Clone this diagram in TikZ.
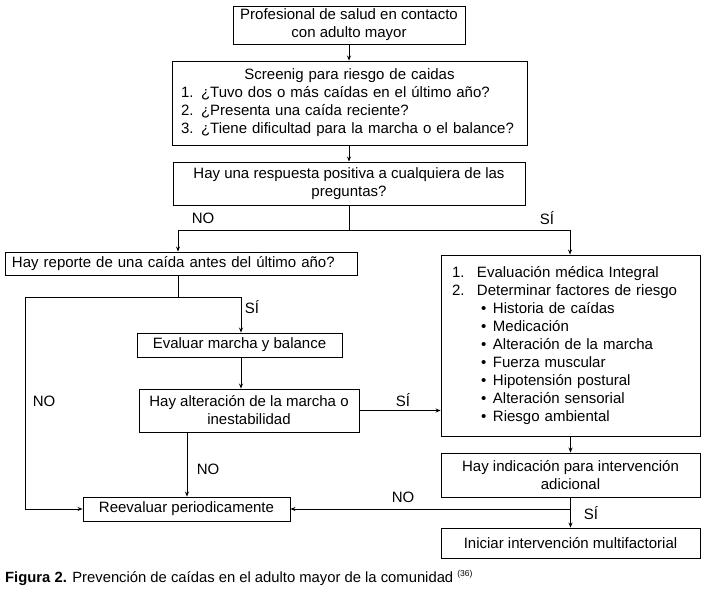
\documentclass[tikz,border=0pt]{standalone}
\usepackage{fontspec}
\setmainfont{Liberation Sans}
\usetikzlibrary{arrows.meta}
\begin{document}
\begin{tikzpicture}[x=1pt,y=-1pt,
  box/.style={draw,line width=0.9pt,inner sep=0pt,align=center,font=\fontsize{15}{18}\selectfont},
  arr/.style={line width=0.8pt,-{Stealth[length=5pt,width=4pt]}},
  ln/.style={line width=0.8pt},
  lab/.style={font=\fontsize{15}{18}\selectfont,inner sep=0pt}]
\useasboundingbox[fill=white] (0,0) rectangle (703,592);
\node[box,minimum width=232pt,minimum height=38pt] (b1) at (349,25) {Profesional de salud en contacto\\con adulto mayor};
\node[box,minimum width=355pt,minimum height=84pt,text width=337pt,align=left] (b2) at (349.5,103)
  {\makebox[\linewidth]{Screenig para riesgo de caidas}\\
   1. ¿Tuvo dos o más caídas en el último año?\\
   2. ¿Presenta una caída reciente?\\
   3. ¿Tiene dificultad para la marcha o el balance?};
\node[box,minimum width=352pt,minimum height=43pt] (b3) at (349,183.5) {Hay una respuesta positiva a cualquiera de las\\preguntas?};
\node[box,minimum width=352pt,minimum height=23pt,text width=338pt,align=left] (b4) at (181,263.5) {Hay reporte de una caída antes del último año?};
\node[box,minimum width=259pt,minimum height=181pt,text width=237pt,align=left] (b5) at (570.5,345.5)
  {\makebox[25pt][l]{1.}Evaluación médica Integral\\
   \makebox[25pt][l]{2.}Determinar factores de riesgo\\
   \hspace*{29pt}\makebox[12pt][l]{•}Historia de caídas\\
   \hspace*{29pt}\makebox[12pt][l]{•}Medicación\\
   \hspace*{29pt}\makebox[12pt][l]{•}Alteración de la marcha\\
   \hspace*{29pt}\makebox[12pt][l]{•}Fuerza muscular\\
   \hspace*{29pt}\makebox[12pt][l]{•}Hipotensión postural\\
   \hspace*{29pt}\makebox[12pt][l]{•}Alteración sensorial\\
   \hspace*{29pt}\makebox[12pt][l]{•}Riesgo ambiental};
\node[box,minimum width=205pt,minimum height=24pt] (b6) at (239.5,345) {Evaluar marcha y balance};
\node[box,minimum width=220pt,minimum height=43pt] (b7) at (249,410.5) {Hay alteración de la marcha o\\inestabilidad};
\node[box,minimum width=207pt,minimum height=24pt] (b8) at (186.5,509) {Reevaluar periodicamente};
\node[box,minimum width=259pt,minimum height=44pt] (b9) at (570.5,475) {Hay indicación para intervención\\adicional};
\node[box,minimum width=259pt,minimum height=30pt] (b10) at (570.5,543) {Iniciar intervención multifactorial};
% connectors
\draw[arr] (b1.south) -- (b1.south |- b2.north);
\draw[arr] (b2.south -| b1.south) -- (b1.south |- b3.north);
\coordinate (j) at (349,230);
\coordinate (jL) at (178,230);
\coordinate (jR) at (570,230);
\draw[ln] (j |- b3.south) -- (j);
\draw[ln] (jL) -- (jR);
\draw[arr] (jL) -- (jL |- b4.north);
\draw[arr] (jR) -- (jR |- b5.north);
\coordinate (k) at (178,297);
\coordinate (kL) at (25,297);
\coordinate (kR) at (241,297);
\draw[ln] (k |- b4.south) -- (k);
\draw[ln] (kL) -- (kR);
\draw[arr] (kR) -- (kR |- b6.north);
\draw[arr] (kL) |- (b8.west);
\draw[arr] (kR |- b6.south) -- (kR |- b7.north);
\draw[arr] (b7.east) -- (b7.east -| b5.west);
\coordinate (m) at (187,0);
\draw[arr] (m |- b7.south) -- (m |- b8.north);
\draw[arr] (b5.south) -- (b9.north);
\draw[arr] (b9.south) -- (b10.north);
\coordinate (n) at (570.5,509);
\draw[arr] (n) -- (b8.east);
% labels
\node[lab] (l1) at (203,218) {NO};
\node[lab] (l2) at (547,218) {SÍ};
\node[lab] (l3) at (252,307) {SÍ};
\node[lab] (l4) at (44,401) {NO};
\node[lab] (l5) at (403,400) {SÍ};
\node[lab] (l6) at (208,469) {NO};
\node[lab] (l7) at (403,497) {NO};
\node[lab] (l8) at (591,513) {SÍ};
\node[anchor=west,inner sep=0pt,font=\fontsize{14.8}{17}\selectfont] (cap) at (5,578)
  {\textbf{Figura 2.} Prevención de caídas en el adulto mayor de la comunidad \textsuperscript{\fontsize{8.5}{9}\selectfont (36)}};
\end{tikzpicture}
\end{document}
